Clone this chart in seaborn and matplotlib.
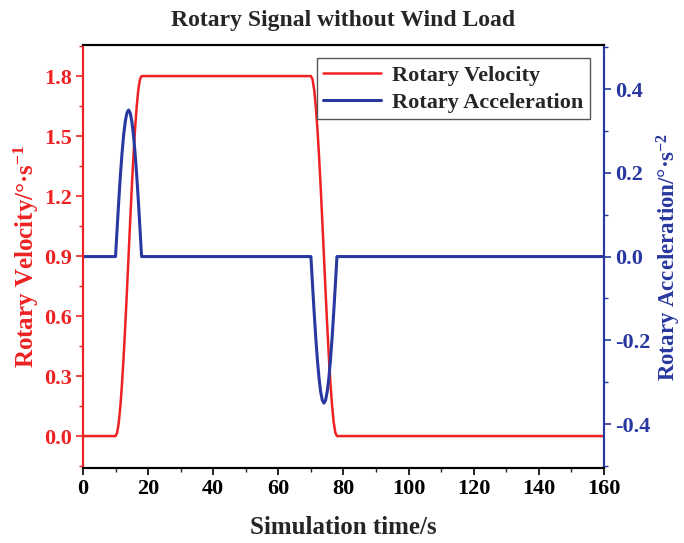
import matplotlib
matplotlib.use("Agg")
import matplotlib.pyplot as plt
from matplotlib.ticker import MultipleLocator
import seaborn as sns
import pandas as pd

# ---- data ----
time_s = [0, 10, 10.5, 11, 11.5, 12, 12.5, 13, 13.5, 14, 14.5, 15, 15.5, 16, 16.5, 17, 17.5, 18,
          70, 70.5, 71, 71.5, 72, 72.5, 73, 73.5, 74, 74.5, 75, 75.5, 76, 76.5, 77, 77.5, 78, 160]
velocity = [0, 0, 0.017, 0.068, 0.152, 0.264, 0.400, 0.556, 0.724, 0.900, 1.076, 1.244, 1.400, 1.536, 1.648, 1.732, 1.783, 1.800,
            1.800, 1.783, 1.732, 1.648, 1.536, 1.400, 1.244, 1.076, 0.900, 0.724, 0.556, 0.400, 0.264, 0.152, 0.068, 0.017, 0, 0]
acceleration = [0, 0, 0.068, 0.134, 0.195, 0.247, 0.291, 0.323, 0.343, 0.350, 0.343, 0.323, 0.291, 0.247, 0.195, 0.134, 0.068, 0,
                0, -0.068, -0.134, -0.195, -0.247, -0.291, -0.323, -0.343, -0.350, -0.343, -0.323, -0.291, -0.247, -0.195, -0.134, -0.068, 0, 0]
x_ticks = [0, 20, 40, 60, 80, 100, 120, 140, 160]
vel_ticks = [0.0, 0.3, 0.6, 0.9, 1.2, 1.5, 1.8]
acc_ticks = [-0.4, -0.2, 0.0, 0.2, 0.4]

df = pd.DataFrame({"time": time_s, "vel": velocity, "acc": acceleration})

sns.set_style("ticks")
plt.rcParams['font.family'] = ['Liberation Serif', 'DejaVu Serif']
plt.rcParams['font.weight'] = 'bold'
plt.rcParams['axes.labelweight'] = 'bold'
plt.rcParams['mathtext.fontset'] = 'custom'
plt.rcParams['mathtext.rm'] = 'Liberation Serif:bold'
plt.rcParams['mathtext.bf'] = 'Liberation Serif:bold'
plt.rcParams['mathtext.it'] = 'Liberation Serif:bold'
plt.rcParams['mathtext.default'] = 'bf'

RED = "#ee2222"
BLUE = "#2838a0"

fig = plt.figure(figsize=(6.84, 5.43), dpi=100)
ax = fig.add_axes([0.1213, 0.138, 0.7617, 0.779])
ax2 = ax.twinx()

sns.lineplot(data=df, x="time", y="vel", ax=ax, color=RED, lw=1.8, estimator=None, label="Rotary Velocity", legend=False)
sns.lineplot(data=df, x="time", y="acc", ax=ax2, color=BLUE, lw=2.2, estimator=None, label="Rotary Acceleration", legend=False)

ax.set_xlim(0, 160)
ax.set_ylim(-0.16, 1.955)
ax2.set_ylim(-0.505, 0.505)

ax.set_xticks(x_ticks)
ax.set_xticklabels([str(t) for t in x_ticks])
ax.xaxis.set_minor_locator(MultipleLocator(10))
ax.set_yticks(vel_ticks)
ax.set_yticklabels([f"{v:.1f}" for v in vel_ticks])
ax.yaxis.set_minor_locator(MultipleLocator(0.15))
ax2.set_yticks(acc_ticks)
ax2.set_yticklabels([f"{v:.1f}" for v in acc_ticks])
ax2.yaxis.set_minor_locator(MultipleLocator(0.1))

ax.tick_params(axis='x', which='major', direction='out', length=5, width=1.2, labelsize=16, colors='black', pad=3)
ax.tick_params(axis='x', which='minor', direction='out', length=3, width=1.0)
ax.tick_params(axis='y', which='major', direction='out', length=5, width=1.2, labelsize=16, colors=RED, pad=3)
ax.tick_params(axis='y', which='minor', direction='out', length=3, width=1.0, colors=RED)
ax2.tick_params(axis='y', which='major', direction='out', length=5, width=1.2, labelsize=16, colors=BLUE, pad=3)
ax2.tick_params(axis='y', which='minor', direction='out', length=3, width=1.0, colors=BLUE)

for a in (ax, ax2):
    for s in a.spines.values():
        s.set_linewidth(1.5)
    a.spines['top'].set_visible(True)
    a.spines['right'].set_visible(True)
    a.spines['top'].set_color('black')
    a.spines['bottom'].set_color('black')
ax.spines['left'].set_color(RED)
ax2.spines['left'].set_color(RED)
ax.spines['right'].set_color(BLUE)
ax2.spines['right'].set_color(BLUE)

ax.set_xlabel("Simulation time/s", fontsize=18, fontweight='bold', labelpad=12)
ax.set_ylabel("Rotary Velocity/°·s$^{-1}$", fontsize=18, fontweight='bold', color=RED, labelpad=2)
ax2.set_ylabel("Rotary Acceleration/°·s$^{-2}$", fontsize=16.5, fontweight='bold', color=BLUE, labelpad=3)
ax.set_title("Rotary Signal without Wind Load", fontsize=17, fontweight='bold', pad=14)

h1, l1 = ax.get_legend_handles_labels()
h2, l2 = ax2.get_legend_handles_labels()
leg = ax2.legend(h1 + h2, l1 + l2, loc='upper right', bbox_to_anchor=(0.995, 0.995), fontsize=16,
                 frameon=True, fancybox=False, edgecolor='#555555', framealpha=1,
                 handlelength=2.6, borderpad=0.3, labelspacing=0.3, handletextpad=0.5)
leg.get_frame().set_linewidth(1.0)

fig.savefig("out.png", dpi=100)
